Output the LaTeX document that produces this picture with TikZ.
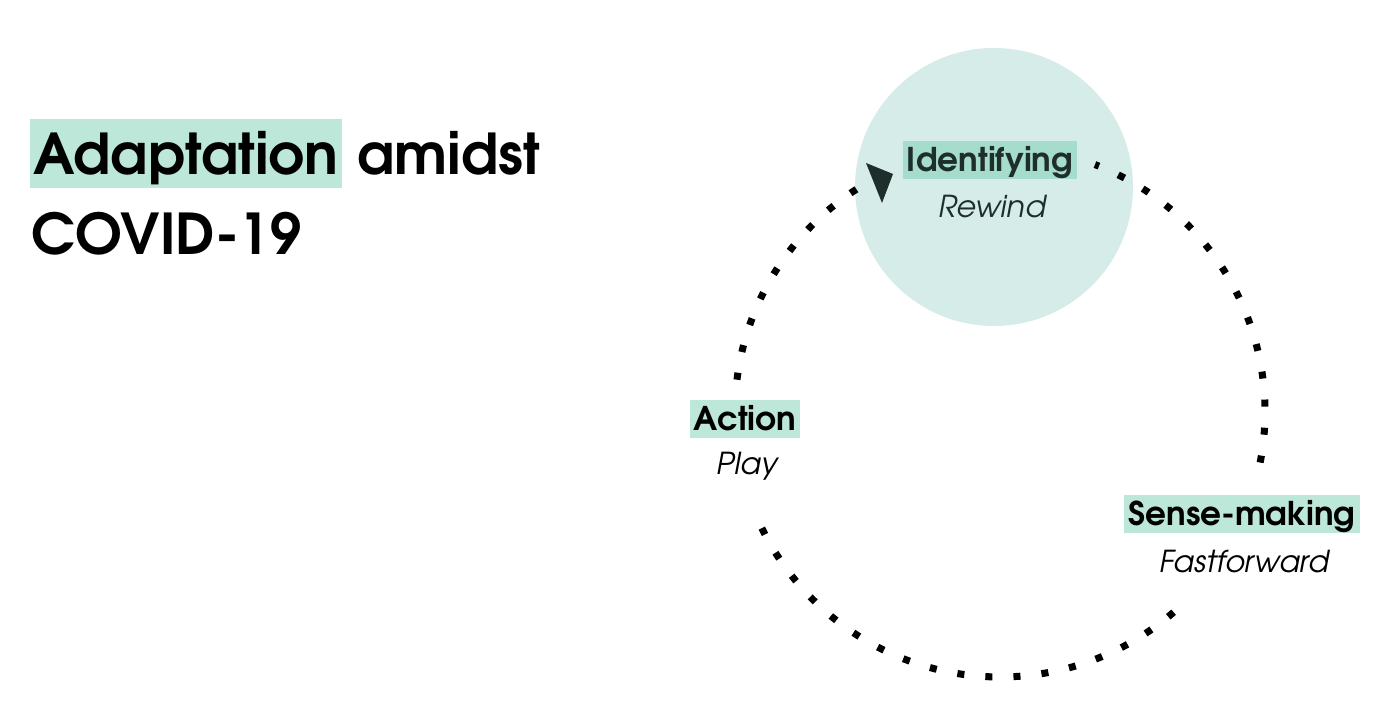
\documentclass[tikz,border=0pt]{standalone}
\usepackage{fontspec}
\setmainfont{TeX Gyre Adventor}
\usepackage{tikz}
\definecolor{mint}{HTML}{BCE7D9}
\definecolor{deepmint}{HTML}{A6DCCB}
\definecolor{bubble}{HTML}{D6ECE8}
\definecolor{ink}{HTML}{1D2E2B}
\tikzstyle{headline}=[font=\bfseries\fontsize{16}{19}\selectfont, anchor=base west, inner sep=0pt]
\tikzstyle{stage}=[fill=mint, font=\bfseries\fontsize{9.3}{11}\selectfont, inner xsep=1.2pt, inner ysep=0pt, text height=0.31cm, text depth=0.07cm]
\tikzstyle{mode}=[font=\itshape\fontsize{8.6}{10}\selectfont, inner sep=0pt]
\tikzstyle{loop}=[line width=2pt, dash pattern=on 2pt off 6pt]

\begin{document}
\begin{tikzpicture}[x=0.01cm, y=0.01cm]
	\useasboundingbox (0, 0) rectangle (1400, 728);
	% title
	\node [style=headline, fill=mint, inner xsep=1pt, text height=0.56cm, text depth=0.13cm] (adapt) at (29, 553) {Adaptation};
	\node [style=headline] (amidst) at (357, 553) {amidst};
	\node [style=headline] (covid) at (31, 473) {COVID-19};
	% cycle
	\fill [bubble] (994, 541) circle [radius=139];
	\coordinate (ring) at (1000, 316);
	\draw [style=loop] (ring) ++(173:265) arc [start angle=173, end angle=122.8, radius=265];
	\draw [style=loop] (ring) ++(206:265) arc [start angle=206, end angle=312, radius=265];
	\draw [style=loop] (ring) ++(-11:265) arc [start angle=-11, end angle=69, radius=265];
	\fill [ink] (866, 565) -- (893, 554) -- (882, 525) -- cycle;
	% stages
	\node [style=stage, fill=deepmint, text=ink] (ident) at (990, 568) {Identifying};
	\node [style=mode, text=ink] (rewind) at (992, 521) {Rewind};
	\node [style=stage] (action) at (745, 309) {Action};
	\node [style=mode] (play) at (747, 262) {Play};
	\node [style=stage] (sense) at (1242, 214) {Sense-making};
	\node [style=mode] (ffwd) at (1244, 166) {Fastforward};
\end{tikzpicture}
\end{document}
